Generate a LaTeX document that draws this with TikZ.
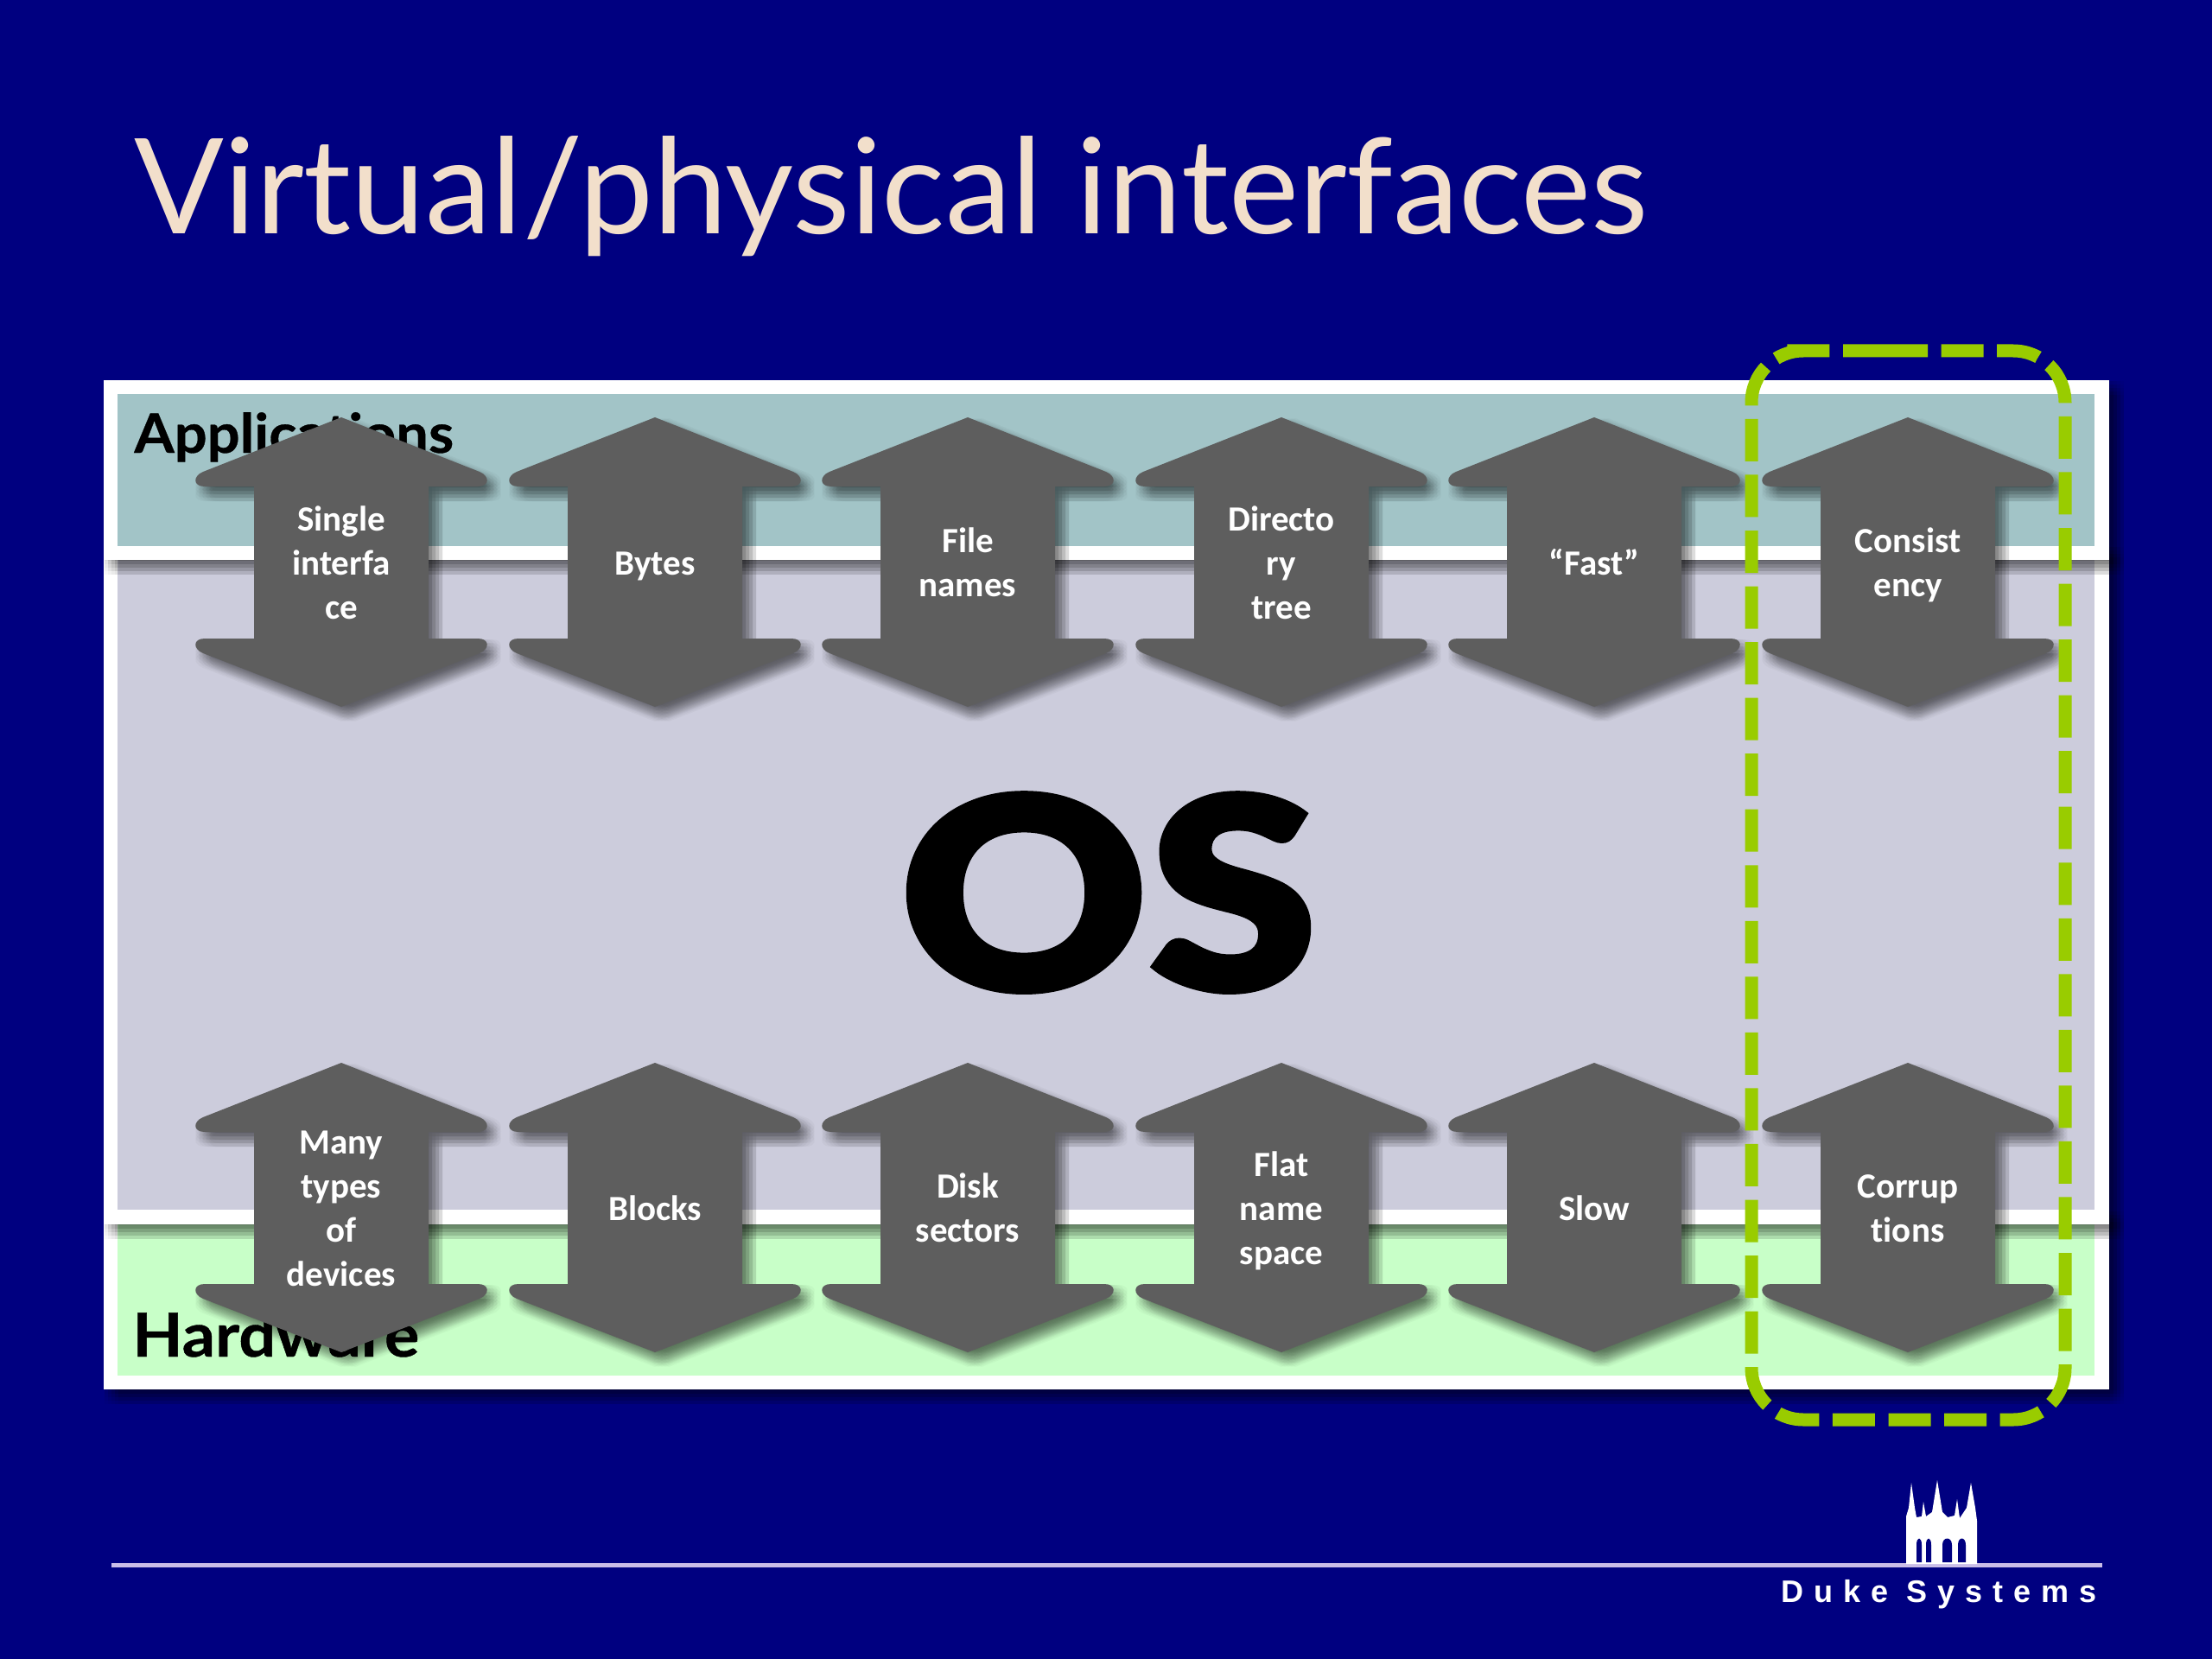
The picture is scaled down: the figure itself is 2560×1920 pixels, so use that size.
\documentclass[tikz,border=0pt]{standalone}
\usepackage{fontspec}
\setmainfont{Lato}
\newfontfamily\lblfont[Ligatures=NoCommon]{Carlito}
\newfontfamily\heavyfont[FakeBold=1.6,FakeStretch=1.14]{Lato Black}
\newfontfamily\appsfont[FakeBold=0.5,FakeStretch=1.06]{Lato Bold}
\newfontfamily\hwfont[FakeBold=0.6,FakeStretch=1.08]{Lato Bold}
\newfontfamily\dukefont[LetterSpace=33]{Liberation Sans Bold}
\definecolor{navy}{HTML}{000080}
\definecolor{titlecream}{HTML}{F2DFCB}
\definecolor{appcol}{HTML}{A2C4C7}
\definecolor{oscol}{HTML}{CCCCDC}
\definecolor{hwcol}{HTML}{C8FFC8}
\definecolor{arrowgrey}{HTML}{5E5E5E}
\definecolor{dashgreen}{HTML}{99CC00}
\definecolor{rulecol}{HTML}{C9BDE8}
\tikzset{
  softshadow/.style={fill=black,opacity=.026},
  arrowbody/.style={fill=arrowgrey},
  arrowlabel/.style={text=white,align=center,font=\lblfont\bfseries\fontsize{20.5pt}{25.5pt}\selectfont,inner sep=0pt},
  bandlabel/.style={text=black,anchor=base west,inner sep=0pt},
}
\newcommand{\arrowshape}{(0,0) -- (160,63) .. controls (172,68) and (172,80) .. (158,80) -- (101,80) -- (101,256) -- (158,256) .. controls (172,256) and (172,268) .. (160,273) -- (0,335) -- (-160,273) .. controls (-172,268) and (-172,256) .. (-158,256) -- (-101,256) -- (-101,80) -- (-158,80) .. controls (-172,80) and (-172,68) .. (-160,63) -- cycle}
\newcommand{\dblarrow}[4]{%
  \begin{scope}[shift={(#1,#2)}]
    \foreach \dx in {-8,-4,0,4,8}{\foreach \dy in {-8,-4,0,4,8}{\path[softshadow,shift={(8+\dx,9+\dy)}] \arrowshape;}}
    \path[arrowbody] \arrowshape;
    \node[arrowlabel] (#3) at (0,172) {\strut #4\strut};
  \end{scope}}
\newcommand{\panel}[5]{%
  \foreach \dx in {-8,-4,0,4,8}{\foreach \dy in {-8,-4,0,4,8}{\path[softshadow] (#1+9+\dx,#2+9+\dy) rectangle (#3+9+\dx,#4+9+\dy);}}
  \fill[white] (#1,#2) rectangle (#3,#4);
  \fill[#5] (#1+16,#2+16) rectangle (#3-17,#4-16);}
\begin{document}
\begin{tikzpicture}[x=.5pt,y=-.5pt]
\useasboundingbox (0,0) rectangle (2560,1920);
\fill[navy] (0,0) rectangle (2560,1920);
\node[anchor=base west,inner sep=0pt,text=titlecream,font=\fontsize{76.7pt}{90pt}\selectfont] (title) at (155,271) {Virtual/physical interfaces};
% panels, lowest first
\panel{120}{1401}{2441}{1608}{hwcol}
\panel{120}{632}{2441}{1417}{oscol}
\panel{120}{440}{2441}{648}{appcol}
\fill[white] (120,1400) rectangle (2441,1417);
\fill[white] (120,632) rectangle (2441,648);
\node[bandlabel,font=\appsfont\fontsize{31.5pt}{36pt}\selectfont] (apps) at (155,524) {Applications};
\node[bandlabel,font=\hwfont\fontsize{35pt}{40pt}\selectfont] (hw) at (153,1570) {Hardware};
\node[anchor=base,inner sep=0pt,text=black,font=\heavyfont\fontsize{155pt}{160pt}\selectfont] (os) at (1283,1146) {OS};
% arrows
\dblarrow{395}{483}{a1}{Single\\interfa\\ce}
\dblarrow{758}{483}{a2}{Bytes}
\dblarrow{1120}{483}{a3}{File\\names}
\dblarrow{1483}{483}{a4}{Directo\\ry\\tree}
\dblarrow{1845}{483}{a5}{“Fast”}
\dblarrow{2208}{483}{a6}{Consist\\ency}
\dblarrow{395}{1230}{b1}{Many\\types\\of\\devices}
\dblarrow{758}{1230}{b2}{Blocks}
\dblarrow{1120}{1230}{b3}{Disk\\sectors}
\dblarrow{1483}{1230}{b4}{Flat\\name\\space}
\dblarrow{1845}{1230}{b5}{Slow}
\dblarrow{2208}{1230}{b6}{Corrup\\tions}
% dashed selection
\draw[dashgreen,line width=7.5pt,dash pattern=on 24.5pt off 7.77pt,rounded corners=30pt]
  (2122,406) -- (2390,406) -- (2390,1643) -- (2027,1643) -- (2027,406) -- cycle;
% footer
\draw[rulecol,line width=2.5pt] (129,1811) -- (2433,1811);
\fill[white] (2206,1810) -- (2206,1755) -- (2209,1745) -- (2212,1716) -- (2216,1745) -- (2218,1756) -- (2224,1755) -- (2226,1738) -- (2229,1755) -- (2236,1750) -- (2242,1713) -- (2248,1750) -- (2254,1756) -- (2262,1754) -- (2265,1735) -- (2268,1757) -- (2276,1745) -- (2281,1716) -- (2286,1745) -- (2288,1760) -- (2288,1810) -- cycle;
\foreach \xa/\xb in {2218/2224,2229/2235,2248/2259,2266/2275}{
  \fill[navy] (\xa,1808) -- (\xa,1788) .. controls (\xa,1778) and (\xb,1778) .. (\xb,1788) -- (\xb,1808) -- cycle;}
\node[anchor=base west,inner sep=0pt,text=white,font=\dukefont\fontsize{18pt}{20pt}\selectfont] (duke) at (2061,1854) {Duke Systems};
\end{tikzpicture}
\end{document}
